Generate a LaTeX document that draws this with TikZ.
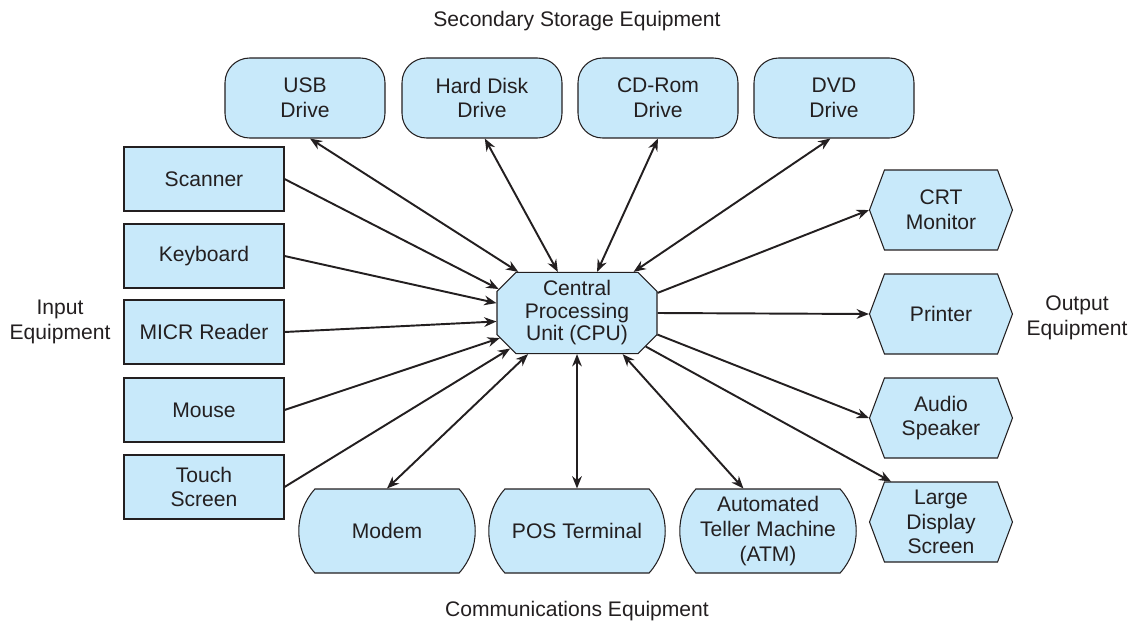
\documentclass[tikz,border=0pt]{standalone}
\usepackage{fontspec}
\setmainfont{Liberation Sans}
\usetikzlibrary{arrows.meta,shapes.misc,shapes.symbols}
\definecolor{boxblue}{RGB}{200,233,250}
\definecolor{ink}{RGB}{35,31,32}
\tikzset{base/.style={draw=ink,fill=boxblue,text=ink,line width=0.6pt,align=center,inner sep=1pt,font=\fontsize{12}{14}\selectfont}}
\tikzset{inbox/.style={base,rectangle,minimum width=3.2cm,minimum height=1.28cm}}
\tikzset{store/.style={base,rectangle,rounded corners=14pt,minimum width=3.2cm,minimum height=1.6cm}}
\tikzset{cpu/.style={base,chamfered rectangle,chamfered rectangle xsep=0.18cm,chamfered rectangle ysep=0.2cm,inner ysep=-1pt,minimum width=3.2cm,minimum height=1.6cm,font=\fontsize{12}{12.8}\selectfont}}
\tikzset{outhex/.style={base,signal,signal to=west and east,signal pointer angle=139,minimum width=2.86cm,minimum height=1.6cm}}
\tikzset{comm/.style={base,rounded rectangle,rounded rectangle arc length=84,minimum width=3.6cm,minimum height=1.68cm}}
\tikzset{lab/.style={text=ink,align=center,font=\fontsize{12}{14}\selectfont}}
\tikzset{link/.style={ink,line width=1.1pt,-{Stealth[length=7pt,width=5.5pt]}}}
\tikzset{both/.style={link,{Stealth[length=7pt,width=5.5pt]}-{Stealth[length=7pt,width=5.5pt]}}}

\begin{document}
\begin{tikzpicture}[x=0.02cm,y=-0.02cm]
    \useasboundingbox (0,0) rectangle (1137,623);
    % secondary storage
    \node[store] (usb) at (305,98) {USB\\Drive};
    \node[store] (hdd) at (482,98) {Hard Disk\\Drive};
    \node[store] (cdrom) at (658,98) {CD-Rom\\Drive};
    \node[store] (dvd) at (834,98) {DVD\\Drive};
    % input
    \node[inbox] (scanner) at (204,179) {Scanner};
    \node[inbox] (keyboard) at (204,256) {Keyboard};
    \node[inbox] (micr) at (204,332) {MICR Reader};
    \node[inbox] (mouse) at (204,410) {Mouse};
    \node[inbox] (touch) at (204,487) {Touch\\Screen};
    \node[cpu] (cpu) at (577,313) {Central\\Processing\\Unit (CPU)};
    % output
    \node[outhex] (crt) at (941,210) {CRT\\Monitor};
    \node[outhex] (printer) at (941,314) {Printer};
    \node[outhex] (audio) at (941,418) {Audio\\Speaker};
    \node[outhex] (large) at (941,522) {Large\\Display\\Screen};
    % communications
    \node[comm] (modem) at (387,531) {Modem};
    \node[comm] (pos) at (577,531) {POS Terminal};
    \node[comm] (atm) at (768,531) {Automated\\Teller Machine\\(ATM)};
    % group labels
    \node[lab] (storelab) at (577,21) {Secondary Storage Equipment};
    \node[lab] (inlab) at (60,322) {Input\\Equipment};
    \node[lab] (outlab) at (1077,318) {Output\\Equipment};
    \node[lab] (commlab) at (577,611) {Communications Equipment};
    \draw[both] (usb.-83) -- (cpu.145);
    \draw[both] (hdd.-86) -- (cpu.115);
    \draw[both] (cdrom.south) -- (cpu.64);
    \draw[both] (dvd.-95) -- (cpu.36);
    \draw[link] (scanner.east) -- (cpu.163);
    \draw[link] (keyboard.east) -- (cpu.173);
    \draw[link] (micr.east) -- (cpu.-174);
    \draw[link] (mouse.east) -- (cpu.-162);
    \draw[link] (touch.east) -- (cpu.-152);
    \draw[link] (cpu.14) -- (crt.west);
    \draw[link] (cpu.0) -- (printer.west);
    \draw[link] (cpu.-15) -- (audio.west);
    \draw[link] (cpu.-26) -- (large.141);
    \draw[both] (cpu.-140) -- (modem.north);
    \draw[both] (cpu.-90) -- (pos.north);
    \draw[both] (cpu.-42) -- (atm.120);
\end{tikzpicture}
\end{document}
